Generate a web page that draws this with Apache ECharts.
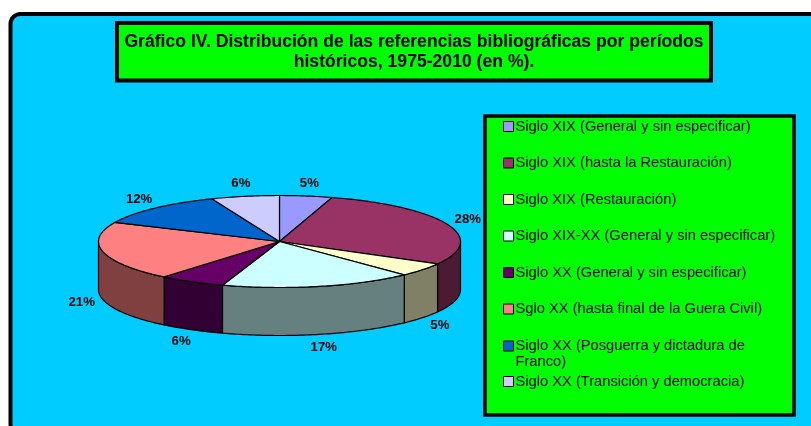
<!DOCTYPE html>
<html><head><meta charset="utf-8">
<style>html,body{margin:0;padding:0;background:#fff}#c{width:811px;height:426px}</style>
<script src="https://cdn.jsdelivr.net/npm/echarts@6/dist/echarts.min.js"></script>
</head><body><div id="c"></div>
<script>
const titleText = "Gráfico IV. Distribución de las referencias bibliográficas por períodos\nhistóricos, 1975-2010 (en %).";
const categories = [
  "Siglo XIX (General y sin especificar)",
  "Siglo XIX (hasta la Restauración)",
  "Siglo XIX (Restauración)",
  "Siglo XIX-XX (General y sin especificar)",
  "Siglo XX (General y sin especificar)",
  "Sglo XX (hasta final de la Guera Civil)",
  "Siglo XX (Posguerra y dictadura de\nFranco)",
  "Siglo XX (Transición y democracia)"
];
const values = [4.7, 28.4, 4.8, 17.2, 5.9, 20.8, 12.1, 6.1];
const colors = ["#9999FF","#993366","#FFFFCC","#CCFFFF","#660066","#FF8080","#0066CC","#CCCCFF"];

const CX = 279.5, CY = 241.5, RX = 181, RY = 46, DEPTH = 48;
const LBL_RX = 203, LBL_RY = 59;
const total = values.reduce((a, b) => a + b, 0);
const starts = [];
values.reduce((acc, v, i) => { starts[i] = acc; return acc + v; }, 0);

function half(hex) {
  const n = parseInt(hex.slice(1), 16);
  const f = s => Math.round(((n >> s) & 255) * 0.5);
  return `rgb(${f(16)},${f(8)},${f(0)})`;
}
function pt(t, dy) { return [CX + RX * Math.sin(t), CY - RY * Math.cos(t) + (dy || 0)]; }
function arc(a, b, dy) {
  const out = [], n = Math.max(2, Math.ceil((b - a) / (Math.PI / 180)));
  for (let i = 0; i <= n; i++) out.push(pt(a + (b - a) * i / n, dy));
  return out;
}
const LINE = { stroke: "#000", lineWidth: 1.2, lineJoin: "round" };

function makeRender(i) {
  return function (params, api) {
    const v = api.value(0);
    const a = starts[i] / total * 2 * Math.PI;
    const b = a + v / total * 2 * Math.PI;
    const kids = [];
    const fa = Math.max(a, Math.PI / 2), fb = Math.min(b, Math.PI * 1.5);
    if (fb > fa) {
      const wall = arc(fa, fb, 0).concat(arc(fa, fb, DEPTH).reverse());
      kids.push({ type: "polygon", shape: { points: wall }, style: Object.assign({ fill: half(colors[i]) }, LINE) });
    }
    kids.push({ type: "polygon", shape: { points: [[CX, CY]].concat(arc(a, b, 0)) },
      style: Object.assign({ fill: colors[i] }, LINE) });
    const m = (a + b) / 2, c = Math.cos(m);
    kids.push({ type: "text", style: {
      text: Math.round(v) + "%",
      x: CX + LBL_RX * Math.sin(m),
      y: CY - LBL_RY * c + (c < 0 ? DEPTH : 0),
      align: "center", verticalAlign: "middle",
      font: "bold 13.2px 'Liberation Sans'", fill: "#000" } });
    return { type: "group", children: kids };
  };
}

const legendBase = {
  orient: "vertical", padding: 0, itemWidth: 10, itemHeight: 10, itemGap: 0, selectedMode: false,
  icon: "rect", left: 503,
  textStyle: { fontFamily: "Liberation Sans", fontSize: 14.7, color: "#000", padding: [0, 0, 0, -3] }
};
function legendData(list) {
  return list.map(n => { const i = categories.indexOf(n);
    return { name: n, itemStyle: { color: colors[i], borderColor: "#000", borderWidth: 1 } }; });
}

const chart = echarts.init(document.getElementById("c"), null, { renderer: "canvas" });
chart.setOption({
  animation: false,
  backgroundColor: "#fff",
  title: { text: titleText, left: 414, top: 32, textAlign: "center", padding: 0,
    textStyle: { fontFamily: "Liberation Sans", fontWeight: "bold", fontSize: 17.6, lineHeight: 20, color: "#000" } },
  legend: [
    Object.assign({}, legendBase, { data: legendData(categories.slice(0, 6)), top: 119, itemGap: 21.5 }),
    Object.assign({}, legendBase, { data: legendData(categories.slice(6, 7)), top: 322,
      formatter: n => "\n" + n, textStyle: Object.assign({}, legendBase.textStyle, { lineHeight: 16 }) }),
    Object.assign({}, legendBase, { data: legendData(categories.slice(7)), top: 374 })
  ],
  graphic: { elements: [
    { type: "rect", z: 0, shape: { x: 10.5, y: 14, width: 900, height: 420, r: 10 },
      style: { fill: "#00CCFF", stroke: "#000", lineWidth: 4 } },
    { type: "rect", z: 1, shape: { x: 117, y: 23, width: 594, height: 57.5 },
      style: { fill: "#00FF00", stroke: "#000", lineWidth: 4 } },
    { type: "rect", z: 1, shape: { x: 485, y: 116, width: 309, height: 299 },
      style: { fill: "#00FF00", stroke: "#000", lineWidth: 3.5 } }
  ] },
  series: categories.map((name, i) => ({
    type: "custom", name, coordinateSystem: "none", silent: true, clip: false,
    itemStyle: { color: colors[i] },
    renderItem: makeRender(i),
    data: [[values[i]]]
  }))
});
</script></body></html>
